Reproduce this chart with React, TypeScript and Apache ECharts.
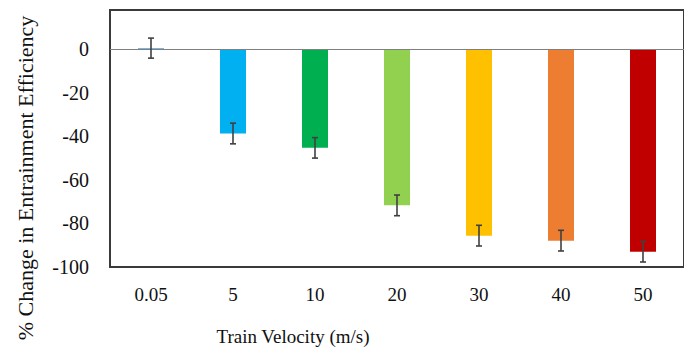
import React, { useEffect, useRef } from "react";
import * as echarts from "echarts";

const categories = ["0.05", "5", "10", "20", "30", "40", "50"];
const values = [0.5, -38.7, -45.3, -71.7, -85.6, -87.9, -93.0];
const errors = [4.6, 4.75, 4.7, 4.75, 4.75, 4.75, 4.7];
const colors = ["#6aaad8", "#00b0f0", "#00b050", "#92d050", "#ffc000", "#ed7d31", "#c00000"];
const yTicks = [-100, -80, -60, -40, -20, 0];
const xTitle = "Train Velocity (m/s)";
const yTitle = "% Change in Entrainment Efficiency";

const FONT = "Liberation Serif";
const TEXT = "#111111";

export default function App() {
  const ref = useRef<HTMLDivElement>(null);
  useEffect(() => {
    if (!ref.current) return;
    const chart = echarts.init(ref.current, null, { renderer: "svg" });
    const errData = categories.map((c, i) => [i, values[i] - errors[i], values[i] + errors[i]]);
    chart.setOption({
      animation: false,
      grid: {
        left: 110,
        top: 10,
        bottom: 81,
        right: -9,
        show: true,
        borderColor: "#3a3a3a",
        borderWidth: 2,
        backgroundColor: "transparent",
      },
      xAxis: {
        type: "category",
        data: categories,
        axisLine: { show: false },
        axisTick: { show: false },
        axisLabel: { fontFamily: FONT, fontSize: 19, color: TEXT, margin: 18 },
      },
      yAxis: {
        type: "value",
        min: -100,
        max: 18,
        interval: 20,
        splitLine: { show: false },
        axisTick: { show: false },
        axisLine: { show: true, lineStyle: { color: "#3a3a3a", width: 2 } },
        axisLabel: {
          fontFamily: FONT,
          fontSize: 20,
          color: TEXT,
          margin: 21,
          showMaxLabel: false,
          formatter: (v: number) => (yTicks.includes(v) ? String(v) : ""),
        },
      },
      graphic: [
        {
          type: "text",
          x: 25,
          y: 178,
          rotation: Math.PI / 2,
          style: {
            text: yTitle,
            fontFamily: FONT,
            fontSize: 22,
            fill: TEXT,
            textAlign: "center",
            textVerticalAlign: "middle",
          },
        },
        {
          type: "text",
          x: 293,
          y: 336,
          style: {
            text: xTitle,
            fontFamily: FONT,
            fontSize: 19,
            fill: TEXT,
            textAlign: "center",
            textVerticalAlign: "middle",
          },
        },
      ],
      series: [
        {
          type: "bar",
          data: values.map((v, i) => ({ value: v, itemStyle: { color: colors[i] } })),
          barWidth: 26,
          markLine: {
            silent: true,
            symbol: "none",
            label: { show: false },
            lineStyle: { color: "#808080", width: 1.2, type: "solid" },
            data: [{ yAxis: 0 }],
          },
        },
        {
          type: "custom",
          data: errData,
          z: 10,
          renderItem: (params: any, api: any) => {
            const x = api.value(0);
            const lo = api.coord([x, api.value(1)]);
            const hi = api.coord([x, api.value(2)]);
            const cap = 3;
            const style = { stroke: "#404040", lineWidth: 1.6 };
            return {
              type: "group",
              children: [
                { type: "line", shape: { x1: lo[0], y1: lo[1], x2: hi[0], y2: hi[1] }, style },
                { type: "line", shape: { x1: lo[0] - cap, y1: lo[1], x2: lo[0] + cap, y2: lo[1] }, style },
                { type: "line", shape: { x1: hi[0] - cap, y1: hi[1], x2: hi[0] + cap, y2: hi[1] }, style },
              ],
            };
          },
        },
      ],
    });
    return () => chart.dispose();
  }, []);
  return (
    <div style={{ position: "fixed", left: 0, top: 0, width: 684, height: 348, background: "#fff" }}>
      <div ref={ref} style={{ width: 684, height: 348 }} />
    </div>
  );
}
